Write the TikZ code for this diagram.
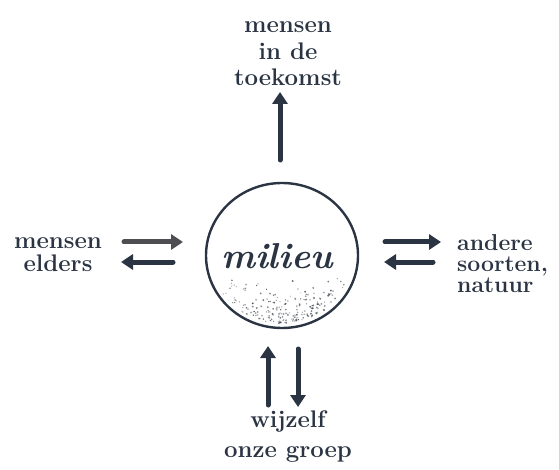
\documentclass[tikz,border=0pt]{standalone}
\usepackage{fontspec}
\setmainfont{Latin Modern Roman}
\usetikzlibrary{arrows.meta,shapes.geometric}
\definecolor{ink}{HTML}{2A3443}
\definecolor{greyink}{HTML}{4E4E52}
\definecolor{dotcol}{HTML}{3A3F48}
\tikzset{
  lbl/.style={text=ink, font=\bfseries\fontsize{24}{26}\selectfont, inner sep=0pt},
  flow/.style={draw=ink, line width=5pt, line cap=round,
    -{Triangle[length=12pt,width=15pt]}},
}
\begin{document}
\begin{tikzpicture}[x=1pt,y=-1pt]
\useasboundingbox (0,0) rectangle (559,470);

% central circle with stippled lower part (denser towards the bottom)
\node[ellipse, draw=ink, line width=2.4pt, minimum width=152pt, minimum height=145pt, inner sep=0pt] (mil) at (282,255.5) {};
\pgfmathsetseed{11}
\begin{scope}[shift={(282,255.5)}]
\foreach \i in {1,...,1600}{
  \pgfmathsetmacro\rx{rand*74}
  \pgfmathsetmacro\ry{rnd*70}
  \pgfmathsetmacro\tt{max(0,(\ry-16)/54)}
  \pgfmathsetmacro\ok{((\rx*\rx/5476+\ry*\ry/4900 < 0.94) && (rnd < 1.2*\tt*\tt)) ? 1 : 0}
  \ifdim\ok pt>0.5pt
    \pgfmathsetmacro\op{0.35+0.5*rnd}
    \pgfmathsetmacro\rr{0.6+0.5*rnd}
    \fill[dotcol, opacity=\op] (\rx,\ry) circle (\rr);
  \fi
}
\end{scope}
\node[text=ink, font=\bfseries\itshape\fontsize{36}{36}\selectfont, inner sep=0pt] (milt) at (277,256) {milieu};

% labels
\node[lbl, align=center, anchor=base, font=\bfseries\fontsize{24}{26.5}\selectfont] (top) at (288,86) {mensen\\in de\\toekomst};
\node[lbl, align=center, anchor=base, font=\bfseries\fontsize{24}{24}\selectfont] (left) at (58,272) {mensen\\elders};
\node[lbl, align=left, anchor=base west, font=\bfseries\fontsize{23}{21}\selectfont] (right) at (457,292) {andere\\soorten,\\natuur};
\node[lbl, align=center, anchor=base, font=\bfseries\fontsize{24}{30}\selectfont] (bot) at (288,457) {wijzelf\\onze groep};

% arrow end points
\coordinate (tA) at (280,160); \coordinate (tB) at (280,92);
\coordinate (lA1) at (124,242); \coordinate (lB1) at (183,242);
\coordinate (lA2) at (173,262); \coordinate (lB2) at (121,262);
\coordinate (rA1) at (385,242); \coordinate (rB1) at (441,242);
\coordinate (rA2) at (433,262); \coordinate (rB2) at (384,262);
\coordinate (bA1) at (268,405); \coordinate (bB1) at (268,346);
\coordinate (bA2) at (298,349); \coordinate (bB2) at (298,407);

% exchanges with the surroundings
\draw[flow] (tA) -- (tB);
\draw[flow, draw=greyink] (lA1) -- (lB1);
\draw[flow] (lA2) -- (lB2);
\draw[flow] (rA1) -- (rB1);
\draw[flow] (rA2) -- (rB2);
\draw[flow] (bA1) -- (bB1);
\draw[flow] (bA2) -- (bB2);
\end{tikzpicture}
\end{document}
